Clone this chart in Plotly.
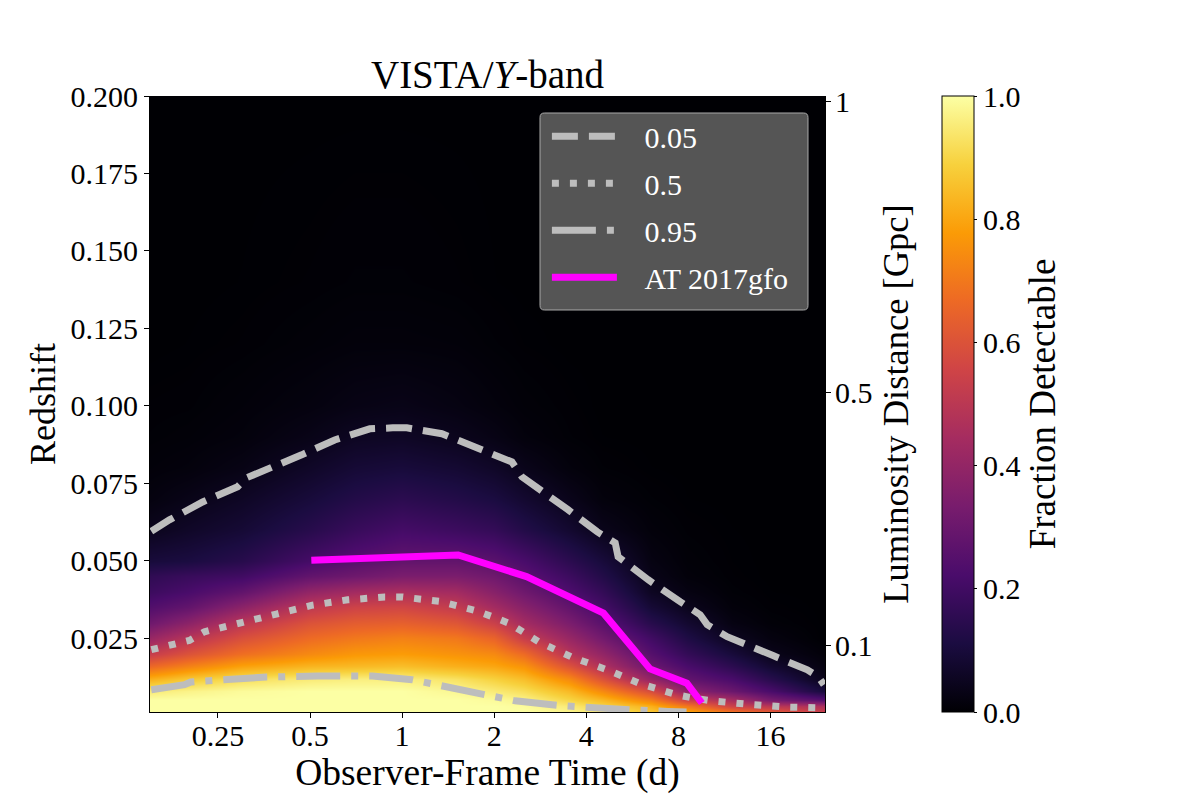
import plotly.graph_objects as go
import math

FONT = "Liberation Serif"
times = [0.15, 0.2, 0.3, 0.5, 0.7, 1, 1.5, 2, 2.5, 3.5, 4.5, 6.5, 8.5, 12, 16, 24.1]
redshifts = [0.001, 0.003, 0.005, 0.008, 0.012, 0.016, 0.02, 0.025, 0.03, 0.035, 0.04,
             0.045, 0.05, 0.06, 0.07, 0.08, 0.09, 0.1, 0.12, 0.14, 0.2]
fraction = [
    [1, 1, 1, 1, 1, 1, 1, 1, 1, .98, .95, .88, .82, .72, .65, .55],
    [1, 1, 1, 1, 1, 1, 1, 1, .99, .95, .9, .82, .7, .55, .5, .46],
    [1, 1, 1, 1, 1, 1, 1, .99, .97, .9, .84, .72, .55, .45, .33, .25],
    [.95, .97, .99, 1, 1, 1, .98, .95, .92, .84, .74, .58, .38, .3, .22, .1],
    [.82, .87, .92, .95, .96, .96, .93, .89, .85, .74, .6, .4, .28, .22, .14, .04],
    [.66, .72, .79, .83, .84, .85, .82, .8, .76, .6, .47, .3, .22, .15, .08, .02],
    [.53, .6, .68, .74, .77, .78, .76, .74, .67, .49, .4, .25, .17, .1, .04, .01],
    [.41, .49, .59, .67, .7, .72, .7, .65, .53, .41, .32, .2, .12, .05, .02, 0],
    [.31, .38, .5, .6, .63, .64, .61, .54, .44, .34, .26, .14, .08, .025, .008, 0],
    [.24, .28, .38, .51, .55, .56, .52, .44, .37, .28, .21, .09, .045, .012, .003, 0],
    [.19, .22, .28, .4, .44, .46, .44, .37, .31, .23, .17, .055, .025, .006, .001, 0],
    [.16, .18, .2, .28, .31, .34, .34, .31, .26, .19, .13, .035, .012, .003, 0, 0],
    [.1, .11, .14, .21, .25, .28, .28, .26, .22, .15, .1, .025, .008, .002, 0, 0],
    [.045, .065, .09, .14, .18, .21, .19, .17, .13, .08, .04, .012, .004, .001, 0, 0],
    [.02, .035, .06, .1, .13, .15, .13, .11, .08, .04, .015, .005, .001, 0, 0, 0],
    [.01, .015, .03, .065, .09, .1, .085, .065, .04, .015, .005, .001, 0, 0, 0, 0],
    [.005, .008, .015, .035, .055, .06, .045, .03, .015, .005, .001, 0, 0, 0, 0, 0],
    [.003, .004, .01, .02, .03, .035, .025, .015, .008, .003, 0, 0, 0, 0, 0, 0],
    [0, .001, .003, .008, .012, .012, .01, .005, .002, 0, 0, 0, 0, 0, 0, 0],
    [0, 0, .001, .003, .005, .005, .003, .001, 0, 0, 0, 0, 0, 0, 0, 0],
    [0, 0, 0, 0, 0, 0, 0, 0, 0, 0, 0, 0, 0, 0, 0, 0],
]

c05_t = [0.1515, 0.1736, 0.2229, 0.29, 0.3103, 0.3607, 0.4697, 0.602, 0.711, 0.784, 0.932, 1.036,
         1.349, 1.755, 1.935, 2.285, 2.464, 2.78, 3.484, 4.335, 4.71, 4.97, 5.08, 6.37, 8.1, 9.42,
         9.93, 11.54, 16.3, 21.1, 22.9, 23.9]
c05_z = [0.0595, 0.0632, 0.069, 0.0739, 0.0768, 0.0794, 0.0842, 0.089, 0.0916, 0.0926, 0.0929, 0.0929,
         0.091, 0.0865, 0.0848, 0.0819, 0.0771, 0.0735, 0.0665, 0.0594, 0.0574, 0.0558, 0.0513, 0.0439,
         0.0368, 0.0326, 0.0294, 0.0255, 0.0194, 0.0148, 0.0126, 0.01]
c50_t = [0.1515, 0.2018, 0.226, 0.2945, 0.388, 0.505, 0.664, 0.878, 1.005, 1.33, 1.73, 1.98, 2.25,
         2.8, 3.59, 4.68, 6.04, 6.86, 7.86, 8.94, 10.3, 13.5, 17.9, 24]
c50_z = [0.0213, 0.0243, 0.0271, 0.0301, 0.0328, 0.0356, 0.0374, 0.0383, 0.0383, 0.0369, 0.034, 0.0319,
         0.0297, 0.0238, 0.0189, 0.0148, 0.0102, 0.0086, 0.0068, 0.0057, 0.0048, 0.0037, 0.0028, 0.0025]
c95_t = [0.1515, 0.1945, 0.204, 0.266, 0.36, 0.53, 0.625, 0.8, 1.08, 1.36, 1.6, 1.86, 2.09, 2.34,
         3.23, 4.1, 5.56, 7.4, 8.5]
c95_z = [0.0084, 0.01, 0.0109, 0.0116, 0.0125, 0.0128, 0.013, 0.0128, 0.0116, 0.0095, 0.0078, 0.0065,
         0.0059, 0.0048, 0.0033, 0.0025, 0.0019, 0.0014, 0.0012]
kn_t = [0.505, 1.525, 2.55, 4.55, 6.46, 8.52, 9.54]
kn_z = [0.0502, 0.0519, 0.0449, 0.0331, 0.0151, 0.0105, 0.0041]

x_ticks = [0.25, 0.5, 1, 2, 4, 8, 16]
x_labels = ["0.25", "0.5", "1", "2", "4", "8", "16"]
y_ticks = [0.025, 0.05, 0.075, 0.1, 0.125, 0.15, 0.175, 0.2]
y_labels = ["0.025", "0.050", "0.075", "0.100", "0.125", "0.150", "0.175", "0.200"]
dl_ticks_z = [0.1982, 0.1042, 0.0226]
dl_labels = ["1", "0.5", "0.1"]

GREY = "#bdbdbd"
PAD = "\u00a0\u00a0\u00a0"
fig = go.Figure()
fig.add_trace(go.Heatmap(
    x=times, y=redshifts, z=fraction, zmin=0, zmax=1, zsmooth="best", colorscale="Inferno",
    hoverinfo="skip",
    colorbar=dict(
        x=1.1733, xanchor="left", y=0.5, yanchor="middle", len=1, lenmode="fraction",
        thickness=32, thicknessmode="pixels", xpad=0, ypad=0,
        outlinecolor="black", outlinewidth=1, tickmode="array",
        tickvals=[0, .2, .4, .6, .8, 1], ticktext=["0.0", "0.2", "0.4", "0.6", "0.8", "1.0"],
        ticks="outside", ticklen=3, tickcolor="black",
        tickfont=dict(family=FONT, size=30, color="black"),
        title=dict(text="Fraction Detectable", side="right", font=dict(family=FONT, size=37, color="black")),
    ),
    showlegend=False,
))
for name, xs, ys, dash in [("0.05", c05_t, c05_z, "26px,11px"),
                           ("0.5", c50_t, c50_z, "7px,11px"),
                           ("0.95", c95_t, c95_z, "44px,11px,7px,11px")]:
    fig.add_trace(go.Scatter(x=xs, y=ys, mode="lines", name=PAD + name, legendgroup=name,
                             line=dict(color=GREY, width=7, dash=dash), hoverinfo="skip"))
fig.add_trace(go.Scatter(x=kn_t, y=kn_z, mode="lines", name=PAD + "AT 2017gfo", legendgroup="kn",
                         line=dict(color="#ff00ff", width=7), hoverinfo="skip"))
fig.add_trace(go.Scatter(x=[times[0]] * len(dl_ticks_z), y=dl_ticks_z, yaxis="y2", mode="markers",
                         marker=dict(opacity=0), showlegend=False, hoverinfo="skip"))

# rounded legend panel
lx0, lx1, ly0, ly1, rx, ry = 0.5778, 0.9748, 0.6526, 0.9724, 0.0065, 0.0071
panel = (f"M {lx0+rx} {ly1} L {lx1-rx} {ly1} Q {lx1} {ly1} {lx1} {ly1-ry} "
         f"L {lx1} {ly0+ry} Q {lx1} {ly0} {lx1-rx} {ly0} L {lx0+rx} {ly0} "
         f"Q {lx0} {ly0} {lx0} {ly0+ry} L {lx0} {ly1-ry} Q {lx0} {ly1} {lx0+rx} {ly1} Z")

fig.update_layout(
    width=1200, height=800, autosize=False,
    margin=dict(l=150, r=375, t=96, b=88, pad=0),
    paper_bgcolor="white", plot_bgcolor="black",
    font=dict(family=FONT, size=30, color="black"),
    title=dict(text="VISTA/<i>Y</i>-band", x=0.5, xref="paper", xanchor="center",
               y=1, yref="paper", yanchor="bottom", pad=dict(b=8),
               font=dict(family=FONT, size=39, color="black")),
    xaxis=dict(type="log", range=[math.log10(0.15), math.log10(24.1)], tickmode="array",
               tickvals=x_ticks, ticktext=x_labels, ticks="outside", ticklen=5, tickcolor="black",
               showgrid=False, zeroline=False, showline=True, linecolor="black", linewidth=1,
               tickfont=dict(family=FONT, size=30), ticklabelstandoff=-8, automargin=False,
               title=dict(text="Observer-Frame Time (d)", standoff=2, font=dict(family=FONT, size=37.5))),
    yaxis=dict(range=[0.0012, 0.2], tickmode="array", tickvals=y_ticks, ticktext=y_labels,
               ticks="outside", ticklen=5, tickcolor="black", showgrid=False, zeroline=False,
               showline=True, linecolor="black", linewidth=1, tickfont=dict(family=FONT, size=30),
               title=dict(text="Redshift", standoff=3, font=dict(family=FONT, size=36))),
    yaxis2=dict(overlaying="y", side="right", range=[0.0012, 0.2], tickmode="array",
                tickvals=dl_ticks_z, ticktext=dl_labels, ticks="outside", ticklen=5, tickcolor="black",
                showgrid=False, zeroline=False, showline=True, linecolor="black", linewidth=1,
                tickfont=dict(family=FONT, size=30), ticklabelstandoff=-2,
                title=dict(text="Luminosity Distance [Gpc]", standoff=10, font=dict(family=FONT, size=36.5))),
    shapes=[dict(type="path", xref="paper", yref="paper", path=panel, fillcolor="#555555",
                 line=dict(color="#aaaaaa", width=1), layer="above")],
    legend=dict(x=0.588, y=0.977, xanchor="left", yanchor="top", bgcolor="rgba(0,0,0,0)",
                borderwidth=0, itemwidth=65, traceorder="grouped",
                tracegroupgap=5, font=dict(family=FONT, size=30, color="white")),
)
fig.write_html("out.html", config={"displayModeBar": False}, post_script="document.body.style.margin='0';")
